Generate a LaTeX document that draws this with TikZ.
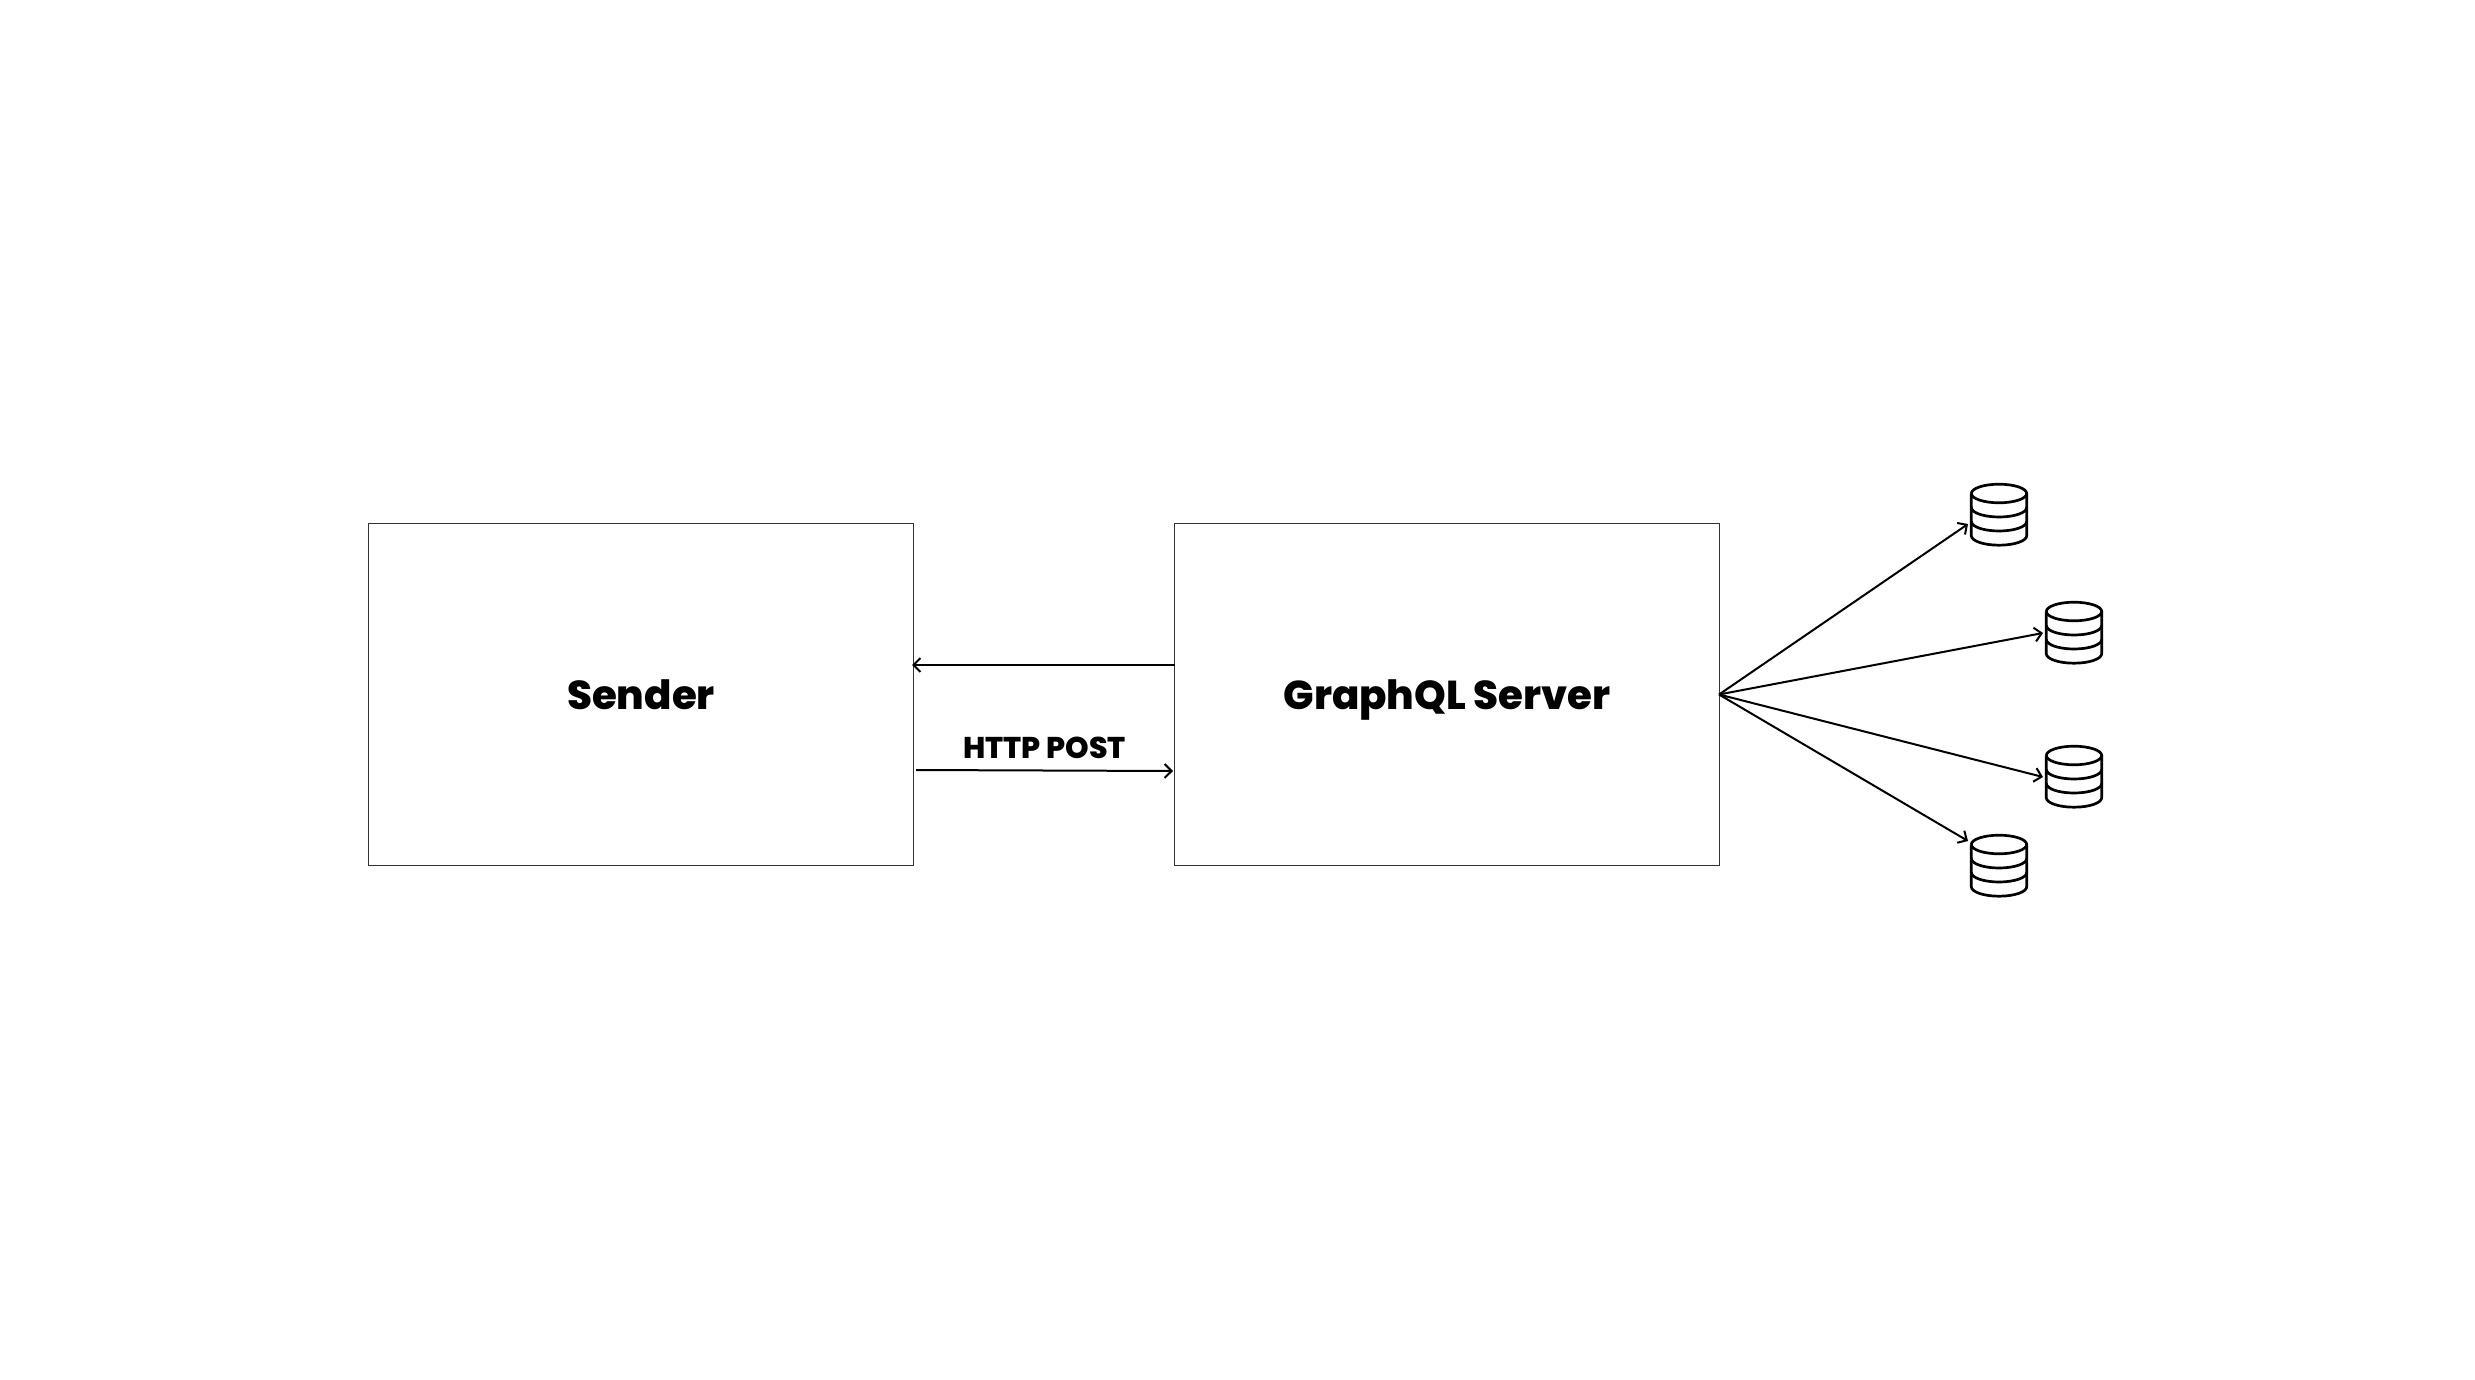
\documentclass[tikz,border=0pt]{standalone}
\usepackage{fontspec}
\setmainfont{Poppins}[BoldFont={Poppins ExtraBold}]
\usetikzlibrary{arrows.meta}
\tikzset{
  x=1pt,y=-1pt,
  box/.style={draw=black!80,line width=1.2pt,rectangle,minimum width=545pt,minimum height=342pt,inner sep=0pt},
  title/.style={inner sep=0pt,anchor=base,font=\fontsize{40.3}{48}\selectfont\bfseries},
  lbl/.style={inner sep=0pt,anchor=base,font=\fontsize{30}{37}\selectfont\bfseries},
  conn/.style={line width=2pt,-{Straight Barb[length=7pt,width=14pt,line width=2pt]}},
  dbline/.style={line width=2.7pt,black,line join=round},
}
\newcommand{\dbicon}[3]{%
  \begin{scope}[shift={(#1,#2)}]
    \coordinate (#3) at (0,0);
    \draw[dbline] (1.3,10.5) arc[start angle=180,end angle=-180,x radius=27.7,y radius=9.3];
    \draw[dbline] (1.3,10.5) -- (1.3,52.7) arc[start angle=180,end angle=0,x radius=27.7,y radius=9.5] -- (56.7,10.5);
    \draw[dbline] (1.3,24.5) arc[start angle=180,end angle=0,x radius=27.7,y radius=9.5];
    \draw[dbline] (1.3,38.5) arc[start angle=180,end angle=0,x radius=27.7,y radius=9.5];
  \end{scope}}
\begin{document}
\begin{tikzpicture}
\useasboundingbox (0,0) rectangle (2475,1380);
\node[box] (sender) at (641,694.5) {};
\node[box] (server) at (1447,694.5) {};
\node[title] (sendertext) at (641,709) {Sender};
\node[title] (servertext) at (1447,709) {GraphQL Server};
\node[lbl] (http) at (1044.5,758) {HTTP POST};
\dbicon{1970}{483}{db1}
\dbicon{2045}{601}{db2}
\dbicon{2045}{745}{db3}
\dbicon{1970}{834}{db4}
\coordinate (t1) at (1968,524);
\coordinate (t2) at (2043,633);
\coordinate (t3) at (2043,777);
\coordinate (t4) at (1968,841);
\coordinate (a) at (1175,665);
\coordinate (b) at (912,665);
\coordinate (c) at (916,770);
\coordinate (d) at (1173,771);
\coordinate (hub) at (1719,694.5);
\draw[conn] (a) -- (b);
\draw[conn] (c) -- (d);
\draw[conn] (hub) -- (t1);
\draw[conn] (hub) -- (t2);
\draw[conn] (hub) -- (t3);
\draw[conn] (hub) -- (t4);
\end{tikzpicture}
\end{document}
